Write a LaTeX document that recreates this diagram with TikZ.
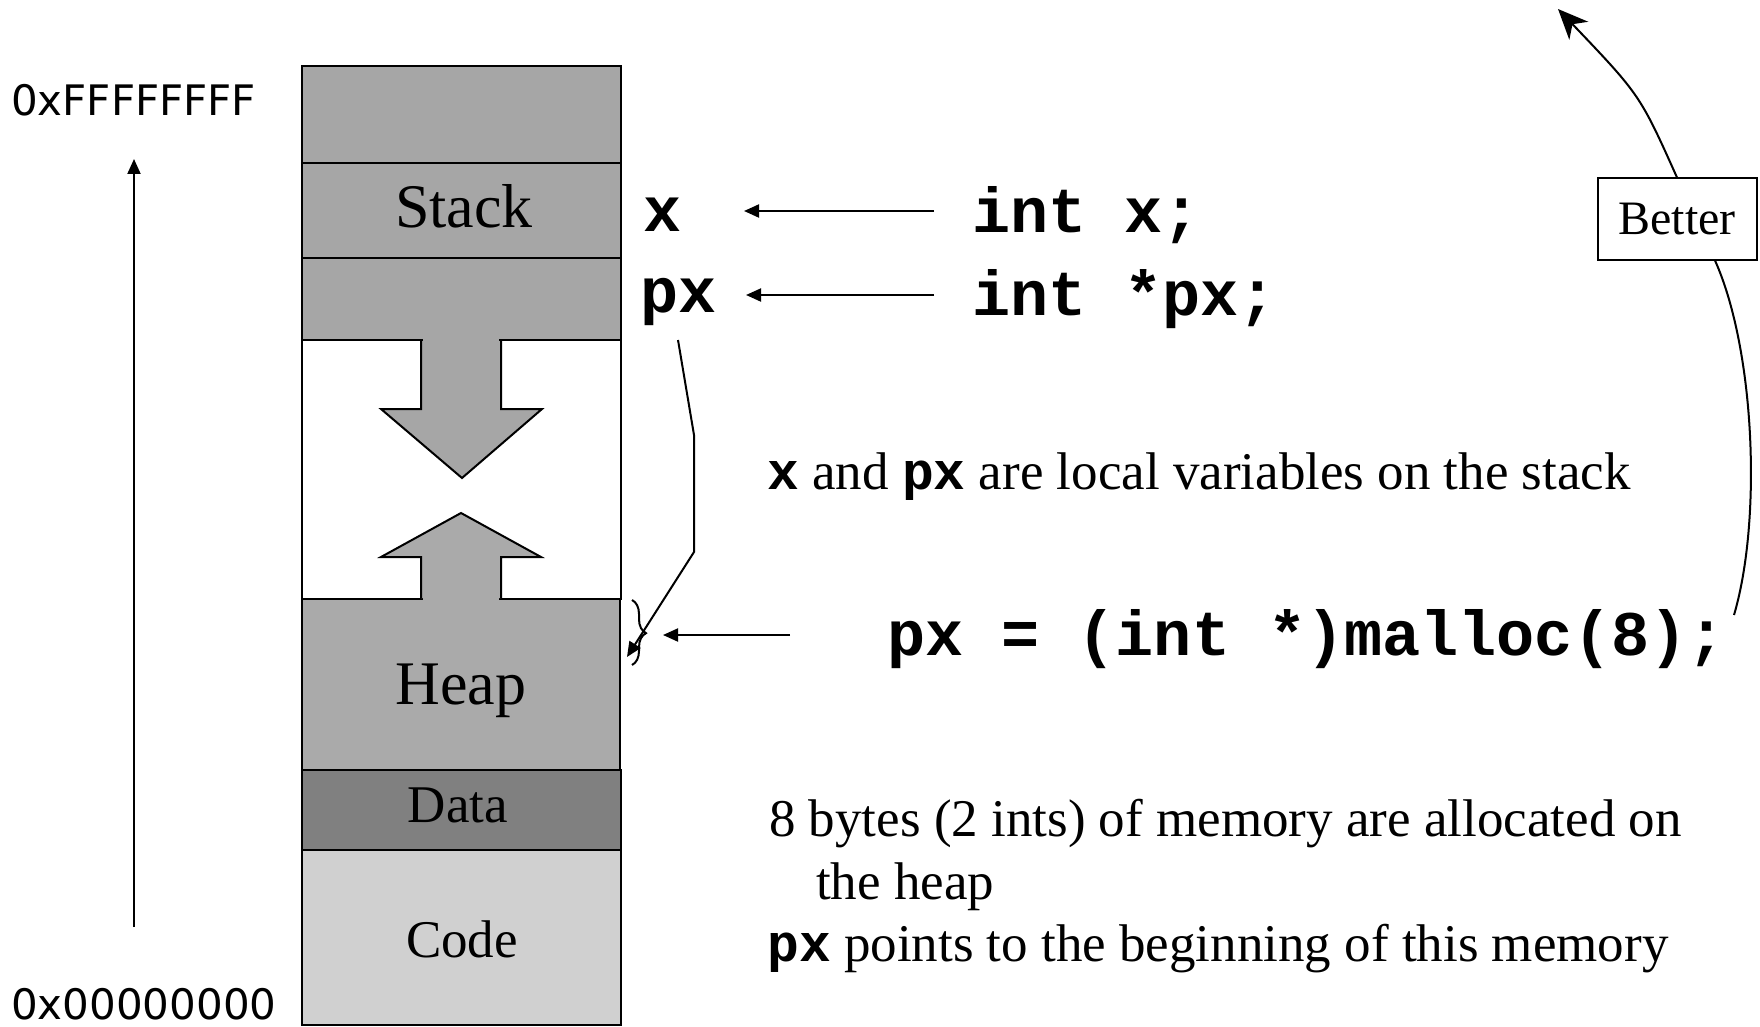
\documentclass[tikz,border=0pt]{standalone}
\usepackage{fontspec}
\setmainfont{Liberation Serif}
\setmonofont{Liberation Mono}
\newfontfamily\addrfont{DejaVu Sans}
\usetikzlibrary{arrows.meta,decorations.pathreplacing}
\definecolor{stackgray}{HTML}{A6A6A6}
\definecolor{heapgray}{HTML}{AAAAAA}
\definecolor{datagray}{HTML}{808080}
\definecolor{codegray}{HTML}{D0D0D0}
\begin{document}
\begin{tikzpicture}[x=1pt,y=-1pt,
  blk/.style={draw=black,line width=2pt},
  conn/.style={draw=black,line width=2pt},
  tipA/.style={-{Triangle[length=15pt,width=13pt]}},
  tipB/.style={-{Stealth[length=30pt,width=26pt,inset=9pt]}},
  seglabel/.style={inner sep=0pt,text=black},
  codetxt/.style={inner sep=0pt,anchor=base west,font=\fontsize{63.5}{63.5}\selectfont\ttfamily\bfseries},
  bodytxt/.style={inner sep=0pt,anchor=base west,font=\fontsize{53}{53}\selectfont},
  addrtxt/.style={inner sep=0pt,anchor=base west,font=\fontsize{42}{42}\selectfont\addrfont},
  boxtxt/.style={draw=black,line width=2pt,fill=white,minimum width=159pt,minimum height=81pt,inner sep=0pt,font=\fontsize{48}{48}\selectfont}]
\useasboundingbox (0,0) rectangle (1760,1027);
% memory column
\filldraw[blk,fill=stackgray] (302,66) rectangle (621,163);
\filldraw[blk,fill=stackgray] (302,163) rectangle (621,258);
\filldraw[blk,fill=stackgray] (302,258) rectangle (621,340);
\filldraw[blk,fill=white] (302,340) rectangle (621,599);
\filldraw[blk,fill=heapgray] (302,599) rectangle (620,770);
\filldraw[blk,fill=datagray] (302,770) rectangle (621,850);
\filldraw[blk,fill=codegray] (302,850) rectangle (621,1025);
% growth arrows
\filldraw[blk,fill=stackgray,line join=miter] (421,341) -- (421,409) -- (381,409) -- (462,478) -- (542,409) -- (501,409) -- (501,341);
\filldraw[blk,fill=heapgray,line join=miter] (421,598) -- (421,557) -- (381,557) -- (461,513) -- (541,557) -- (501,557) -- (501,598);
\fill[stackgray] (423,334) rectangle (499,342);
\fill[heapgray] (423,596) rectangle (499,604);
% segment labels
\node[seglabel,font=\fontsize{62}{62}\selectfont] (stack) at (464,206) {Stack};
\node[seglabel,font=\fontsize{62}{62}\selectfont] (heap) at (461,691) {Heap};
\node[seglabel,font=\fontsize{53}{53}\selectfont] (data) at (458,805) {Data};
\node[seglabel,font=\fontsize{53}{53}\selectfont] (code) at (462,939) {Code};
% addresses
\node[addrtxt] (hi) at (11,116) {0xFFFFFFFF};
\node[addrtxt] (lo) at (11,1019) {0x00000000};
\coordinate (a0) at (134,927);
\coordinate (a1) at (134,159);
\draw[conn,tipA] (a0) -- (a1);
% variables
\node[codetxt] (x) at (643,231) {x};
\node[codetxt] (px) at (640,312) {px};
\node[codetxt] (intx) at (972,232) {int x;};
\node[codetxt] (intpx) at (972,315) {int *px;};
\coordinate (x0) at (934,211);
\coordinate (x1) at (744,211);
\coordinate (p0) at (934,295);
\coordinate (p1) at (746,295);
\draw[conn,tipA] (x0) -- (x1);
\draw[conn,tipA] (p0) -- (p1);
% malloc
\node[codetxt] (malloc) at (887,655) {px = (int *)malloc(8);};
\coordinate (m0) at (790,635);
\coordinate (m1) at (663,635);
\draw[conn,tipA] (m0) -- (m1);
% brace
\draw[line width=2pt,decorate,decoration={brace,amplitude=14pt,aspect=0.51}] (632,600) -- (632,665);
% px pointer
\coordinate (ps) at (678,340);
\coordinate (pe) at (627,657);
\draw[conn,tipA,line join=miter] (ps) -- (694,435) -- (694,552) -- (pe);
% texts
\node[bodytxt] (t1) at (767,489) {\texttt{\bfseries\fontsize{53}{53}\selectfont x} and \texttt{\bfseries\fontsize{53}{53}\selectfont px} are local variables on the stack};
\node[bodytxt] (t2) at (769,836) {8 bytes (2 ints) of memory are allocated on};
\node[bodytxt] (t3) at (816,899) {the heap};
\node[bodytxt] (t4) at (767,961) {\texttt{\bfseries\fontsize{53}{53}\selectfont px} points to the beginning of this memory};
% better
\node[boxtxt] (better) at (1677,219) {Better};
\coordinate (b0) at (1734,615);
\coordinate (b1) at (1558,9);
\draw[conn] (b0) .. controls (1762,520) and (1755,350) .. ([xshift=38pt]better.south);
\draw[conn,tipB] (better.north) .. controls (1640,95) .. (b1);
\end{tikzpicture}
\end{document}
